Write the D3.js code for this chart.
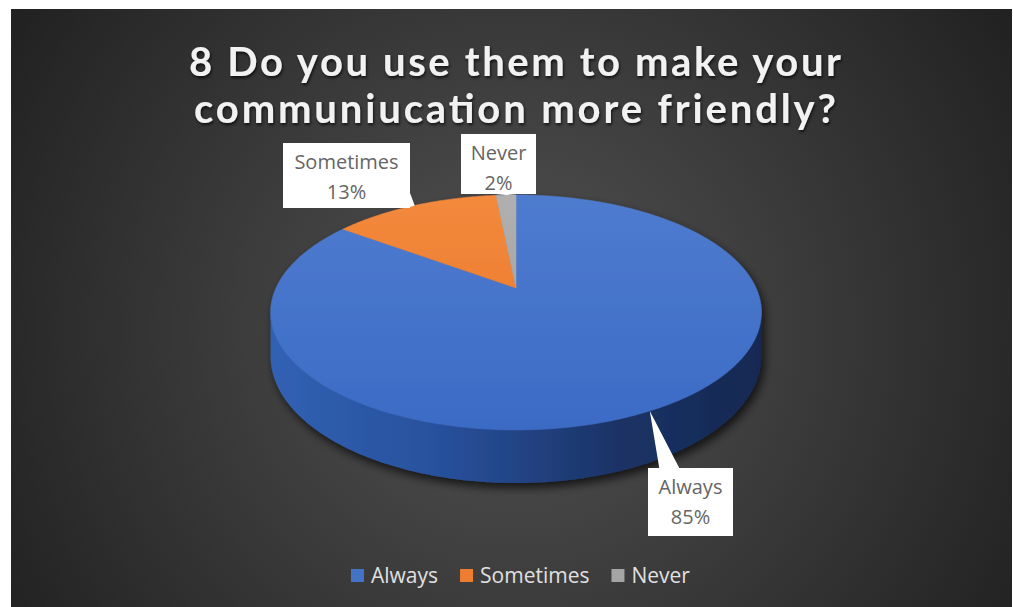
<!DOCTYPE html>
<html>
<head>
<meta charset="utf-8">
<script src="https://cdn.jsdelivr.net/npm/d3@7"></script>
<style>
  html, body { margin: 0; padding: 0; background: #fff; }
  svg { display: block; }
</style>
</head>
<body>
<div id="chart"></div>
<script>
// survey answers (share of respondents, %)
const categories = ["Always", "Sometimes", "Never"];
const values = [85, 13.4, 1.6];
const titleLines = ["8 Do you use them to make your", "communiucation more friendly?"];

const width = 1013, height = 607;
const topColors = [["#4f7ccf", "#3b6bc5"], ["#f38a3c", "#e8732a"], ["#b0b0b0", "#9c9c9c"]];
const legendColors = ["#4472c4", "#ed7d31", "#a5a5a5"];

// pie projection (slight perspective, tilted disk)
const cx = 516, cy = 288, RX = 240, RY = 112.4, P = 4.8, DEPTH = 42;

function proj(theta, r = 1, dz = 0) {
    const u = r * Math.sin(theta), v = -r * Math.cos(theta);
    const s = P / (P - v);
    return [cx + RX * u * s, cy + RY * v * s + dz * s];
}

const svg = d3.select("#chart").append("svg")
    .attr("width", width)
    .attr("height", height);

const defs = svg.append("defs");

const bg = defs.append("radialGradient").attr("id", "bg")
    .attr("gradientUnits", "userSpaceOnUse")
    .attr("cx", 512).attr("cy", 330).attr("r", 580);
bg.append("stop").attr("offset", 0).attr("stop-color", "#535353");
bg.append("stop").attr("offset", 1).attr("stop-color", "#222222");

topColors.forEach((c, i) => {
    const g = defs.append("linearGradient").attr("id", "top" + i)
        .attr("gradientUnits", "userSpaceOnUse")
        .attr("x1", 0).attr("y1", 190).attr("x2", 0).attr("y2", 430);
    g.append("stop").attr("offset", 0).attr("stop-color", c[0]);
    g.append("stop").attr("offset", 1).attr("stop-color", c[1]);
});

const sideGrad = defs.append("linearGradient").attr("id", "side")
    .attr("gradientUnits", "userSpaceOnUse")
    .attr("x1", 270).attr("y1", 0).attr("x2", 765).attr("y2", 0);
[[0, "#3161b4"], [0.35, "#28509b"], [0.7, "#1b3366"], [1, "#152851"]].forEach(s =>
    sideGrad.append("stop").attr("offset", s[0]).attr("stop-color", s[1]));

const shadow = defs.append("filter").attr("id", "shadow")
    .attr("x", "-20%").attr("y", "-20%").attr("width", "140%").attr("height", "150%");
shadow.append("feDropShadow").attr("dx", 3).attr("dy", 5).attr("stdDeviation", 5)
    .attr("flood-color", "#000").attr("flood-opacity", 0.7);

const tshadow = defs.append("filter").attr("id", "tshadow")
    .attr("x", "-10%").attr("y", "-30%").attr("width", "120%").attr("height", "160%");
tshadow.append("feDropShadow").attr("dx", 1).attr("dy", 2).attr("stdDeviation", 1.5)
    .attr("flood-color", "#000").attr("flood-opacity", 0.7);

// background panel
svg.append("rect")
    .attr("x", 11).attr("y", 9)
    .attr("width", width - 12).attr("height", height - 9)
    .attr("fill", "url(#bg)");

// title
svg.append("g").attr("filter", "url(#tshadow)")
    .selectAll("text")
    .data(titleLines)
    .join("text")
    .attr("x", 515)
    .attr("y", (d, i) => 76 + i * 47)
    .attr("text-anchor", "middle")
    .attr("font-family", "Lato, sans-serif")
    .attr("font-weight", 700)
    .attr("font-size", 40)
    .attr("fill", "#f2f2f2")
    .attr("textLength", (d, i) => i === 0 ? 652 : 642)
    .attr("lengthAdjust", "spacing")
    .text(d => d);

const arcs = d3.pie().sort(null).value(d => d)(values);
const line = d3.line();

function sample(a0, a1, r, dz) {
    const n = Math.max(2, Math.ceil((a1 - a0) / 0.01));
    return d3.range(n + 1).map(k => proj(a0 + (a1 - a0) * k / n, r, dz));
}

// visible part of the rim: between the left- and right-most points
const thetas = d3.range(0, 2 * Math.PI, 0.002);
const thR = thetas[d3.maxIndex(thetas, t => proj(t)[0])];
const thL = thetas[d3.minIndex(thetas, t => proj(t)[0])];

const pie = svg.append("g").attr("filter", "url(#shadow)");

arcs.forEach((a, i) => {
    const s = Math.max(a.startAngle, thR), e = Math.min(a.endAngle, thL);
    if (e <= s) return;
    const pts = sample(s, e, 1, 0).concat(sample(s, e, 1, DEPTH).reverse());
    pie.append("path")
        .attr("d", line(pts) + "Z")
        .attr("fill", i === 0 ? "url(#side)" : legendColors[i]);
});

pie.selectAll("path.top")
    .data(arcs)
    .join("path")
    .attr("class", "top")
    .attr("d", a => line([proj(0, 0)].concat(sample(a.startAngle, a.endAngle, 1, 0))) + "Z")
    .attr("fill", (a, i) => `url(#top${i})`)
    .attr("stroke", (a, i) => `url(#top${i})`)
    .attr("stroke-width", 0.5);

// data labels with callouts
const labelBoxes = [
    { x: 648, y: 468, w: 85, h: 68 },
    { x: 283, y: 143, w: 127, h: 65 },
    { x: 461, y: 134, w: 75, h: 60 }
];

function callout(b, tip) {
    const x0 = b.x, x1 = b.x + b.w, y0 = b.y, y1 = b.y + b.h;
    const hw = 10;
    if (tip[1] < y0) {
        const c = Math.max(x0 + b.w * 0.25, Math.min(x1 - b.w * 0.25, tip[0]));
        return [[x0, y0], [c - hw, y0], tip, [c + hw, y0], [x1, y0], [x1, y1], [x0, y1]];
    }
    if (tip[1] > y1) {
        const c = Math.max(x0 + b.w * 0.25, Math.min(x1 - b.w * 0.25, tip[0]));
        return [[x0, y0], [x1, y0], [x1, y1], [c + hw, y1], tip, [c - hw, y1], [x0, y1]];
    }
    const c = Math.max(y0 + 8, Math.min(y1 - 8, tip[1]));
    return [[x0, y0], [x1, y0], [x1, c - 7], tip, [x1, c + 7], [x1, y1], [x0, y1]];
}

const total = d3.sum(values);
const labels = svg.append("g");
arcs.forEach((a, i) => {
    const b = labelBoxes[i];
    const tip = proj((a.startAngle + a.endAngle) / 2, 1, 0);
    labels.append("path")
        .attr("d", line(callout(b, tip)) + "Z")
        .attr("fill", "#ffffff");
    const t = labels.append("text")
        .attr("text-anchor", "middle")
        .attr("font-family", "'Open Sans', sans-serif")
        .attr("font-size", 20)
        .attr("fill", "#656565");
    t.append("tspan").attr("x", b.x + b.w / 2).attr("y", b.y + 26).text(categories[i]);
    t.append("tspan").attr("x", b.x + b.w / 2).attr("y", b.y + 56)
        .text(Math.round(values[i] / total * 100) + "%");
});

// legend
const legend = svg.append("g");
let lx = 351;
categories.forEach((c, i) => {
    legend.append("rect")
        .attr("x", lx).attr("y", 569)
        .attr("width", 13).attr("height", 13)
        .attr("fill", legendColors[i]);
    const t = legend.append("text")
        .attr("x", lx + 20).attr("y", 583)
        .attr("font-family", "'Open Sans', sans-serif")
        .attr("font-size", 21)
        .attr("fill", "#e0e0e0")
        .text(c);
    lx += 20 + t.node().getComputedTextLength() + 22;
});
</script>
</body>
</html>
